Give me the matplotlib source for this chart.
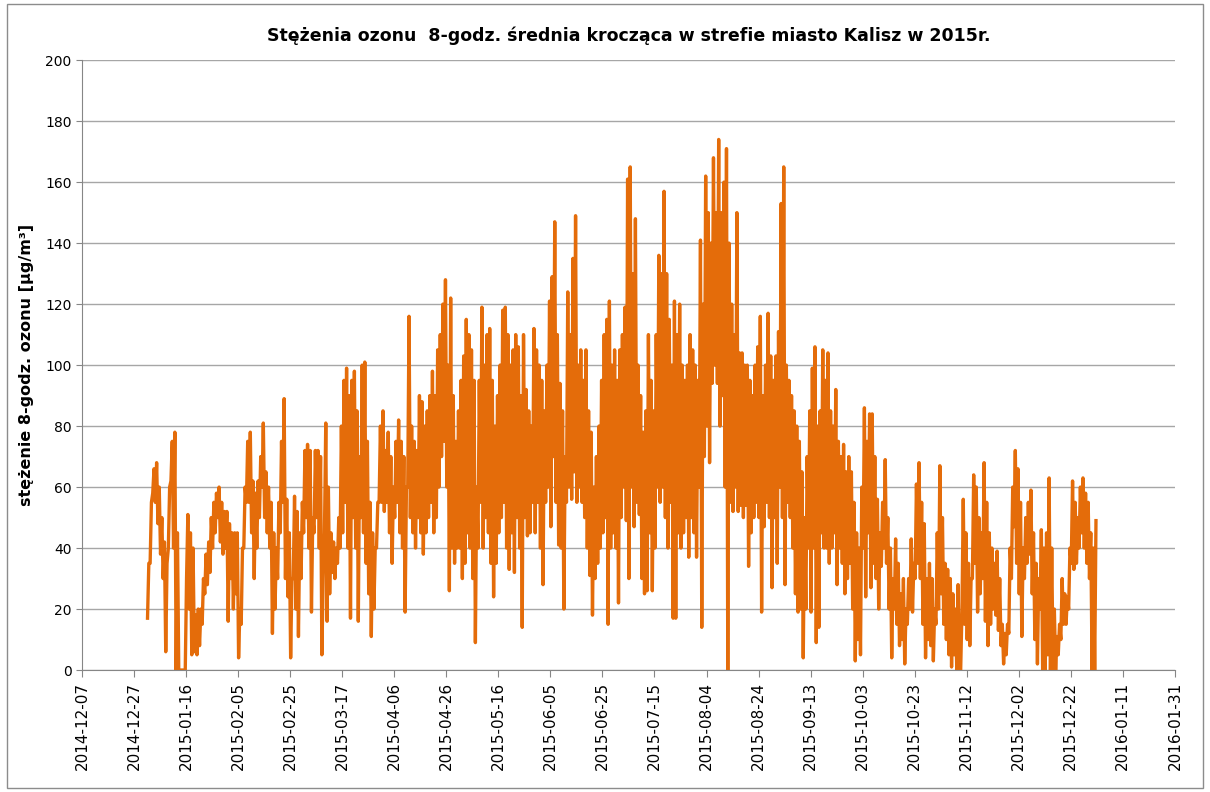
import numpy as np
import pandas as pd
import matplotlib
matplotlib.use('Agg')
import matplotlib.pyplot as plt
import matplotlib.dates as mdates
from matplotlib.patches import Rectangle

# daily maximum / minimum of the 8-h rolling mean, 1 Jan .. 31 Dec 2015
daily_max = [
    35, 55, 66, 68, 60, 50, 42, 35, 60, 75,
    78, 45, 0, 0, 0, 51, 45, 40, 18, 20,
    20, 30, 38, 42, 50, 55, 58, 60, 55, 52,
    52, 48, 45, 45, 45, 20, 40, 60, 75, 78,
    62, 58, 62, 70, 81, 65, 60, 55, 45, 40,
    55, 75, 89, 56, 45, 30, 57, 52, 45, 55,
    72, 74, 72, 50, 72, 72, 70, 30, 81, 60,
    45, 42, 40, 50, 80, 95, 99, 90, 95, 98,
    85, 70, 100, 101, 75, 55, 45, 40, 55, 80,
    85, 72, 78, 70, 60, 75, 82, 75, 70, 60,
    116, 80, 75, 72, 90, 88, 80, 85, 90, 98,
    90, 105, 110, 120, 128, 100, 122, 90, 75, 85,
    95, 103, 115, 110, 105, 95, 60, 95, 119, 100,
    110, 112, 95, 80, 90, 100, 118, 119, 110, 100,
    105, 110, 106, 90, 110, 92, 85, 80, 112, 105,
    100, 95, 85, 100, 121, 129, 147, 110, 94, 85,
    70, 124, 110, 135, 149, 100, 105, 95, 105, 85,
    78, 60, 70, 80, 95, 110, 115, 121, 100, 105,
    95, 105, 110, 119, 161, 165, 130, 148, 100, 90,
    78, 85, 110, 95, 85, 110, 136, 130, 157, 130,
    115, 100, 121, 110, 120, 100, 95, 100, 110, 105,
    100, 95, 141, 120, 162, 150, 140, 168, 150, 174,
    150, 160, 171, 140, 120, 110, 150, 104, 104, 100,
    100, 95, 90, 100, 106, 116, 90, 100, 117, 103,
    95, 103, 111, 153, 165, 100, 95, 90, 85, 80,
    75, 65, 50, 70, 85, 99, 106, 80, 85, 105,
    95, 104, 85, 80, 92, 75, 70, 74, 65, 70,
    65, 55, 45, 40, 60, 86, 75, 84, 84, 70,
    56, 45, 55, 69, 50, 40, 30, 43, 35, 25,
    30, 20, 30, 43, 35, 61, 68, 55, 48, 30,
    35, 30, 20, 45, 67, 50, 35, 33, 30, 25,
    20, 28, 0, 56, 45, 35, 30, 64, 60, 50,
    45, 68, 55, 45, 40, 35, 39, 30, 15, 12,
    15, 40, 60, 72, 66, 55, 40, 50, 55, 59,
    45, 35, 30, 46, 40, 45, 63, 40, 20, 11,
    15, 30, 25, 24, 40, 62, 55, 50, 60, 63,
    58, 55, 45, 40, 49,
]
daily_min = [
    17, 35, 58, 55, 48, 38, 30, 6, 40, 62,
    40, 0, 0, 0, 0, 30, 20, 5, 6, 5,
    8, 15, 25, 28, 32, 40, 45, 50, 42, 38,
    40, 16, 30, 20, 25, 4, 15, 40, 55, 55,
    45, 30, 40, 50, 60, 50, 45, 40, 12, 20,
    30, 45, 55, 30, 24, 4, 30, 20, 11, 30,
    45, 50, 40, 19, 45, 50, 40, 5, 45, 16,
    25, 32, 30, 35, 40, 45, 55, 40, 17, 50,
    40, 16, 50, 45, 35, 25, 11, 20, 40, 55,
    55, 52, 55, 45, 35, 50, 55, 45, 40, 19,
    60, 50, 45, 40, 50, 45, 38, 45, 50, 55,
    45, 50, 60, 70, 75, 60, 26, 40, 35, 40,
    40, 30, 35, 45, 40, 30, 9, 40, 55, 40,
    50, 45, 35, 24, 35, 45, 50, 55, 40, 33,
    45, 32, 50, 40, 14, 50, 44, 45, 55, 45,
    55, 40, 28, 55, 60, 47, 70, 55, 41, 40,
    20, 55, 60, 56, 65, 55, 60, 55, 50, 40,
    31, 18, 30, 35, 40, 45, 50, 15, 40, 45,
    40, 22, 50, 60, 49, 30, 60, 47, 55, 51,
    30, 25, 26, 45, 26, 40, 60, 55, 60, 50,
    40, 55, 17, 17, 45, 40, 45, 50, 37, 50,
    45, 37, 60, 14, 70, 80, 68, 94, 100, 94,
    80, 90, 60, 0, 55, 52, 60, 52, 54, 50,
    54, 34, 45, 50, 55, 50, 19, 47, 55, 50,
    27, 50, 35, 60, 50, 28, 55, 50, 40, 25,
    19, 20, 4, 20, 40, 19, 40, 9, 14, 45,
    40, 40, 35, 40, 45, 28, 40, 35, 25, 30,
    35, 20, 3, 10, 5, 40, 24, 45, 27, 35,
    30, 20, 34, 40, 35, 20, 4, 20, 15, 8,
    10, 2, 15, 20, 19, 30, 35, 30, 15, 4,
    10, 8, 3, 15, 20, 25, 15, 10, 5, 1,
    5, 0, 0, 20, 15, 10, 8, 30, 35, 19,
    25, 30, 16, 8, 15, 20, 18, 13, 8, 2,
    5, 12, 30, 47, 35, 25, 11, 30, 35, 38,
    25, 10, 2, 20, 0, 0, 5, 0, 0, 0,
    5, 10, 15, 15, 20, 35, 33, 35, 40, 45,
    40, 35, 30, 0, 0,
]

title = 'Stężenia ozonu  8-godz. średnia krocząca w strefie miasto Kalisz w 2015r.'
ylabel = 'stężenie 8-godz. ozonu [µg/m³]'

# night minimum then afternoon maximum for each day
values = np.column_stack([daily_min, daily_max]).ravel()
times = pd.date_range('2015-01-01 04:00', periods=len(values), freq='12h')

fig = plt.figure(figsize=(12.1, 7.92), dpi=100)
fig.patches.append(Rectangle((0.006, 0.005), 0.988, 0.99, transform=fig.transFigure,
                             fill=False, edgecolor='#8c8c8c', linewidth=1))
ax = fig.add_axes([0.0678, 0.154, 0.9032, 0.770])

ax.plot(times, values, color='#E46C0A', linewidth=2.4, solid_joinstyle='round')

ax.set_ylim(0, 200)
ax.set_yticks(range(0, 201, 20))
ax.set_xlim(pd.Timestamp('2014-12-07'), pd.Timestamp('2016-01-31'))
ax.set_xticks(pd.date_range('2014-12-07', '2016-01-31', freq='20D'))
ax.xaxis.set_major_formatter(mdates.DateFormatter('%Y-%m-%d'))
plt.setp(ax.get_xticklabels(), rotation=90, fontsize=11)
ax.tick_params(axis='y', labelsize=10, length=4, color='#868686')
ax.tick_params(axis='x', length=5, color='#868686')

ax.grid(axis='y', color='#a6a6a6', linewidth=1)
ax.set_axisbelow(True)
for s in ['top', 'right']:
    ax.spines[s].set_visible(False)
for s in ['left', 'bottom']:
    ax.spines[s].set_color('#868686')

ax.set_title(title, fontsize=12.5, fontweight='bold', pad=14)
ax.set_ylabel(ylabel, fontsize=11.5, fontweight='bold', labelpad=8)

fig.savefig('out.png', dpi=100)
